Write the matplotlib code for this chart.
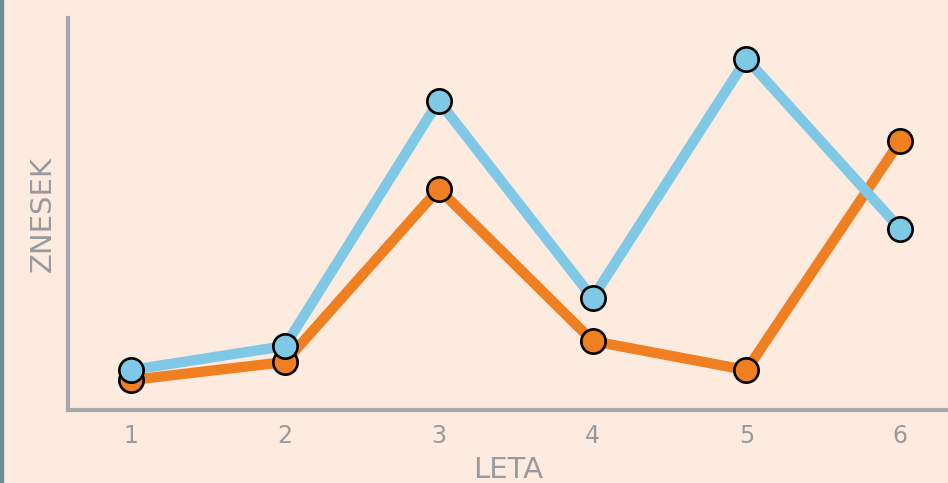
import matplotlib
matplotlib.use("Agg")
import matplotlib.pyplot as plt
from matplotlib.patches import Rectangle

years = [1, 2, 3, 4, 5, 6]
tick_labels = ["1", "2", "3", "4", "5", "6"]
orange_vals = [3.0, 4.8, 22.1, 6.9, 4.0, 26.9]
blue_vals = [4.0, 6.4, 30.9, 11.2, 35.1, 18.1]

bg = "#fdebdf"
grey = "#a8a8aa"
label_grey = "#9a9a9c"
orange = "#f07f22"
blue = "#7fc9e6"

fig = plt.figure(figsize=(9.48, 4.83), dpi=100, facecolor=bg)
ax = fig.add_axes([0.0717, 0.151, 0.9283, 0.812], facecolor=bg)

# thin accent strip at the left edge of the figure
fig.patches.append(Rectangle((0, 0), 3 / 948, 1, transform=fig.transFigure,
                             color="#6b8f98", zorder=10))

ax.plot(years, orange_vals, color=orange, lw=7.4, marker="o", ms=17.5,
        mfc=orange, mec="black", mew=1.9, zorder=3, solid_capstyle="butt")
ax.plot(years, blue_vals, color=blue, lw=7.4, marker="o", ms=17.5,
        mfc=blue, mec="black", mew=1.9, zorder=4, solid_capstyle="butt")

ax.set_xlim(0.59, 6.31)
ax.set_ylim(0, 39.2)
ax.set_xticks(years)
ax.set_xticklabels(tick_labels)
ax.set_yticks([])
ax.tick_params(axis="x", length=0, pad=10, labelsize=17, labelcolor=label_grey)

for side in ("top", "right"):
    ax.spines[side].set_visible(False)
for side in ("left", "bottom"):
    ax.spines[side].set_color(grey)
    ax.spines[side].set_linewidth(3)

ax.set_xlabel("LETA", fontsize=21, color=label_grey, labelpad=6)
ax.set_ylabel("ZNESEK", fontsize=21, color=label_grey, labelpad=8)

fig.savefig("out.png", dpi=100, facecolor=bg)
